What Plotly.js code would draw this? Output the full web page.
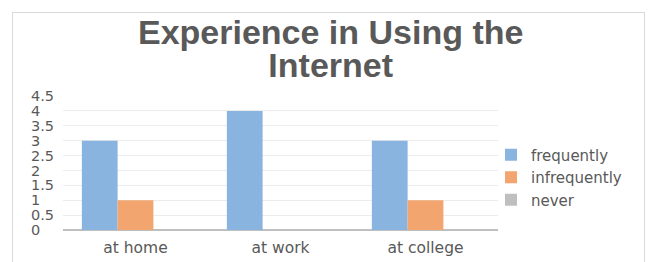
<!DOCTYPE html>
<html>
<head>
<meta charset="utf-8">
<script src="https://cdn.plot.ly/plotly-3.0.1.min.js"></script>
<style>
  html, body { margin: 0; padding: 0; background: #ffffff; }
  #frame { position: absolute; left: 12px; top: 12px; width: 633px; height: 260px; border: 1px solid #d9d9d9; box-sizing: border-box; }
  #chart { position: absolute; left: 0; top: 0; width: 651px; height: 262px; }
</style>
</head>
<body>
<div id="frame"></div>
<div id="chart"></div>
<script>
const categories = ['at home', 'at work', 'at college'];
const frequently = [3, 4, 3];
const infrequently = [1, 0, 1];
const never = [0, 0, 0];
const seriesNames = ['frequently', 'infrequently', 'never'];
const yTickVals = [0, 0.5, 1, 1.5, 2, 2.5, 3, 3.5, 4, 4.5];
const yTickText = ['0', '0.5', '1', '1.5', '2', '2.5', '3', '3.5', '4', '4.5'];

// pad integer labels so the labels appear left-aligned like the original
const paddedTicks = yTickText.map(t => t.indexOf('.') === -1 ? t + '\u2008\u2007' : t);

const colors = ['#8ab4e0', '#f2a56e', '#bfbfbf'];
const values = [frequently, infrequently, never];

const data = values.map((v, i) => ({
  type: 'bar',
  name: seriesNames[i],
  x: categories,
  y: v,
  marker: { color: colors[i], line: { width: 0 } },
  hoverinfo: 'x+y+name'
}));

const layout = {
  width: 651,
  height: 262,
  paper_bgcolor: 'rgba(0,0,0,0)',
  plot_bgcolor: 'rgba(0,0,0,0)',
  margin: { l: 63, r: 153, t: 96, b: 32, pad: 0, autoexpand: false },
  barmode: 'group',
  bargap: 0.26,
  bargroupgap: 0,
  title: {
    text: '<span style="font-size:34px">Experience in Using the</span><br><span style="font-size:34px">Internet</span>',
    font: { family: '"Liberation Sans", Arial, sans-serif', size: 25, color: '#595959', weight: 'bold' },
    xref: 'container', x: 0.508, xanchor: 'center',
    yref: 'container', y: 0.832, yanchor: 'top'
  },
  font: { family: '"DejaVu Sans", sans-serif', color: '#595959' },
  xaxis: {
    showgrid: false,
    showline: false,
    zeroline: false,
    ticks: '',
    ticklabelstandoff: 6,
    tickfont: { size: 15.5, color: '#595959' },
    fixedrange: true
  },
  yaxis: {
    range: [0, 4.5],
    tickvals: yTickVals,
    ticktext: paddedTicks,
    showgrid: true,
    gridcolor: '#ececec',
    gridwidth: 1,
    zeroline: true,
    zerolinecolor: '#bfbfbf',
    zerolinewidth: 2,
    showline: false,
    ticks: '',
    ticklabelstandoff: 8,
    tickfont: { size: 14.5, color: '#595959' },
    fixedrange: true
  },
  legend: {
    xref: 'container', xanchor: 'left',
    y: 0.392, yanchor: 'middle',
    font: { size: 15, color: '#595959' },
    itemwidth: 30,
    bgcolor: 'rgba(0,0,0,0)',
    borderwidth: 0,
    tracegroupgap: 0
  },
  showlegend: true
};
layout.legend.x = 491 / 651;

Plotly.newPlot('chart', data, layout, { displayModeBar: false, staticPlot: true });
</script>
</body>
</html>
